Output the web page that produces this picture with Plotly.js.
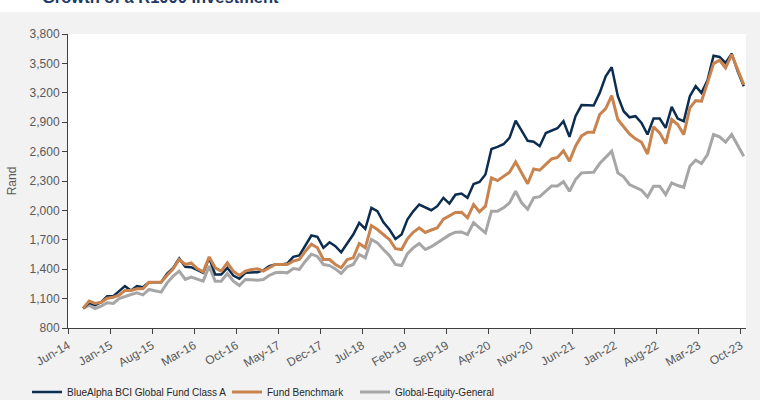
<!DOCTYPE html>
<html>
<head>
<meta charset="utf-8">
<script src="https://cdn.plot.ly/plotly-3.0.1.min.js"></script>
<style>html,body{margin:0;padding:0;background:#f2f2f2;}#chart{width:760px;height:400px;}</style>
</head>
<body>
<div id="chart"></div>
<script>
const months = [
 '2014-08','2014-09','2014-10','2014-11','2014-12',
 '2015-01','2015-02','2015-03','2015-04','2015-05','2015-06','2015-07','2015-08','2015-09','2015-10','2015-11','2015-12',
 '2016-01','2016-02','2016-03','2016-04','2016-05','2016-06','2016-07','2016-08','2016-09','2016-10','2016-11','2016-12',
 '2017-01','2017-02','2017-03','2017-04','2017-05','2017-06','2017-07','2017-08','2017-09','2017-10','2017-11','2017-12',
 '2018-01','2018-02','2018-03','2018-04','2018-05','2018-06','2018-07','2018-08','2018-09','2018-10','2018-11','2018-12',
 '2019-01','2019-02','2019-03','2019-04','2019-05','2019-06','2019-07','2019-08','2019-09','2019-10','2019-11','2019-12',
 '2020-01','2020-02','2020-03','2020-04','2020-05','2020-06','2020-07','2020-08','2020-09','2020-10','2020-11','2020-12',
 '2021-01','2021-02','2021-03','2021-04','2021-05','2021-06','2021-07','2021-08','2021-09','2021-10','2021-11','2021-12',
 '2022-01','2022-02','2022-03','2022-04','2022-05','2022-06','2022-07','2022-08','2022-09','2022-10','2022-11','2022-12',
 '2023-01','2023-02','2023-03','2023-04','2023-05','2023-06','2023-07','2023-08','2023-09','2023-10'
];

const blueAlpha = [
 1000,1057,1033,1063,1125,1125,1176,1227,1183,1227,
 1217,1268,1268,1268,1356,1414,1509,1424,1421,1390,
 1363,1516,1346,1346,1414,1336,1302,1363,1370,1370,
 1390,1431,1448,1448,1458,1526,1540,1635,1744,1730,
 1618,1675,1635,1573,1669,1754,1873,1811,2026,1992,
 1879,1805,1709,1754,1907,1990,2060,2033,2002,2043,
 2128,2070,2160,2172,2128,2270,2290,2366,2627,2648,
 2675,2740,2915,2815,2710,2700,2655,2790,2818,2838,
 2910,2750,2961,3075,3073,3070,3199,3369,3460,3165,
 3012,2950,2961,2893,2774,2937,2937,2842,3056,2937,
 2910,3165,3267,3199,3328,3579,3566,3505,3600,3420,3267
];

const fundBenchmark = [
 1000,1074,1050,1063,1104,1114,1135,1183,1183,1200,
 1200,1268,1268,1268,1339,1404,1499,1448,1465,1407,
 1373,1526,1414,1380,1465,1380,1336,1380,1397,1404,
 1380,1414,1448,1448,1448,1482,1499,1584,1655,1618,
 1499,1499,1448,1414,1499,1516,1662,1618,1845,1805,
 1754,1703,1610,1601,1710,1777,1822,1775,1800,1822,
 1910,1945,1978,1981,1924,2060,1985,2043,2332,2304,
 2345,2389,2493,2383,2272,2423,2410,2470,2525,2540,
 2608,2502,2655,2760,2797,2797,2978,3039,3171,2927,
 2859,2781,2730,2695,2576,2852,2791,2682,2927,2876,
 2774,3046,3120,3114,3301,3498,3532,3454,3590,3437,3284
];

const globalEquityGeneral = [
 1000,1030,999,1023,1057,1050,1101,1125,1142,1159,
 1138,1193,1183,1166,1261,1329,1380,1295,1319,1302,
 1278,1431,1278,1278,1356,1278,1234,1295,1288,1288,
 1295,1336,1363,1370,1363,1407,1397,1482,1553,1530,
 1448,1437,1403,1356,1424,1448,1550,1516,1703,1669,
 1601,1539,1448,1437,1558,1618,1663,1601,1630,1672,
 1715,1750,1777,1780,1754,1876,1822,1771,1992,1992,
 2026,2077,2196,2077,2012,2128,2140,2196,2250,2250,
 2293,2196,2315,2383,2390,2390,2478,2546,2604,2383,
 2342,2264,2236,2206,2138,2247,2247,2162,2281,2254,
 2236,2451,2512,2478,2570,2774,2750,2696,2774,2662,2553
];

const tickDates = ['2014-06-01','2015-01-01','2015-08-01','2016-03-01','2016-10-01','2017-05-01','2017-12-01','2018-07-01','2019-02-01','2019-09-01','2020-04-01','2020-11-01','2021-06-01','2022-01-01','2022-08-01','2023-03-01','2023-10-01'];
const tickLabels = ['Jun-14','Jan-15','Aug-15','Mar-16','Oct-16','May-17','Dec-17','Jul-18','Feb-19','Sep-19','Apr-20','Nov-20','Jun-21','Jan-22','Aug-22','Mar-23','Oct-23'];

const names = ['BlueAlpha BCI Global Fund Class A','Fund Benchmark','Global-Equity-General'];
const colors = ['#0c2d4f','#c9834f','#a6a6a6'];

const common = {x: months, type: 'scatter', mode: 'lines', xperiod: 'M1', xperiodalignment: 'middle', hoverinfo: 'skip'};

const data = [
  Object.assign({}, common, {y: globalEquityGeneral, name: names[2], line: {color: colors[2], width: 3}, legend: 'legend3'}),
  Object.assign({}, common, {y: blueAlpha, name: names[0], line: {color: colors[0], width: 2.5}, legend: 'legend'}),
  Object.assign({}, common, {y: fundBenchmark, name: names[1], line: {color: colors[1], width: 3}, legend: 'legend2'})
];

const legFont = {family: '"Liberation Sans", Arial, sans-serif', size: 10, color: '#262626'};
function leg(px) {
  return {orientation: 'h', xref: 'container', yref: 'container', x: px / 760, y: 1 - 392 / 400,
          xanchor: 'left', yanchor: 'middle', bgcolor: 'rgba(0,0,0,0)', font: legFont, borderwidth: 0};
}

const layout = {
  width: 760, height: 400,
  margin: {l: 68, r: 14, t: 34, b: 72, autoexpand: false},
  paper_bgcolor: '#f2f2f2',
  plot_bgcolor: '#ffffff',
  font: {family: '"Liberation Sans", Arial, sans-serif', size: 12, color: '#595959'},
  showlegend: true,
  xaxis: {
    type: 'date', range: ['2014-06-01', '2023-10-28'],
    tickmode: 'array', tickvals: tickDates, ticktext: tickLabels, tickangle: -30,
    ticks: 'outside', ticklen: 5, tickcolor: '#404040', tickwidth: 1,
    showline: true, linecolor: '#404040', linewidth: 1,
    showgrid: false, zeroline: false, automargin: false,
    tickfont: {size: 12, color: '#595959'}
  },
  yaxis: {
    range: [800, 3800], tick0: 800, dtick: 300, tickformat: ',',
    ticks: 'outside', ticklen: 5, tickcolor: '#404040', tickwidth: 1,
    showline: true, linecolor: '#404040', linewidth: 1,
    showgrid: false, zeroline: false, automargin: false,
    tickfont: {size: 12, color: '#595959'},
    title: {text: 'Rand', font: {size: 12, color: '#595959'}, standoff: 10}
  },
  legend: leg(27),
  legend2: leg(227),
  legend3: leg(355),
  shapes: [
    {type: 'rect', xref: 'paper', yref: 'paper', x0: -0.2, x1: 1.2, y0: 1.0748, y1: 1.3, fillcolor: '#ffffff', line: {width: 0}, layer: 'below'}
  ],
  annotations: [
    {text: '<b>Growth of a R1000 Investment</b>', xref: 'paper', yref: 'paper', x: (40 - 68) / 678, y: 1.1259, xanchor: 'left', yanchor: 'middle', showarrow: false, font: {family: '"Liberation Sans", Arial, sans-serif', size: 16.5, color: '#1f3864'}}
  ]
};

Plotly.newPlot('chart', data, layout, {displayModeBar: false, staticPlot: true});
</script>
</body>
</html>
